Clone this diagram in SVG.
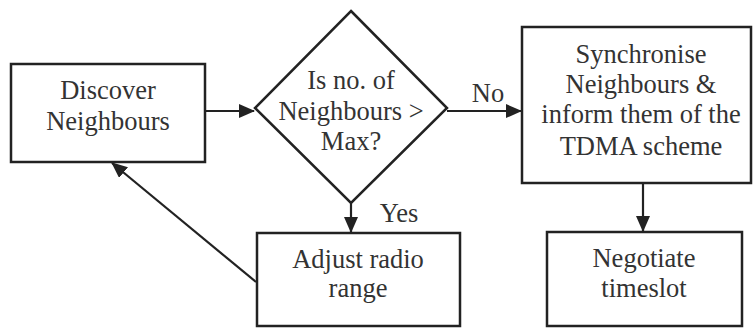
<svg xmlns="http://www.w3.org/2000/svg" width="756" height="328" viewBox="0 0 756 328">
<style>
.box{fill:#fff;stroke:#222;stroke-width:2.5}
.t{font-family:"Liberation Serif","Times New Roman",serif;font-size:26.5px;fill:#333;text-anchor:middle}
.c{fill:none;stroke:#222;stroke-width:2.2}
</style>
<defs>
<marker id="ah" markerUnits="userSpaceOnUse" markerWidth="16" markerHeight="14" refX="15" refY="7" orient="auto">
<path d="M0,0 L16,7 L0,14 Z" fill="#222"/>
</marker>
</defs>
<rect width="756" height="328" fill="#fff"/>
<g id="connectors">
<line class="c" x1="205" y1="111" x2="254" y2="111" marker-end="url(#ah)"/>
<line class="c" x1="447" y1="111" x2="521" y2="111" marker-end="url(#ah)"/>
<line class="c" x1="351" y1="203" x2="351" y2="232" marker-end="url(#ah)"/>
<line class="c" x1="643" y1="183" x2="643" y2="231" marker-end="url(#ah)"/>
<line class="c" x1="256" y1="282" x2="112" y2="163" marker-end="url(#ah)"/>
<text class="t" x="488" y="102">No</text>
<text class="t" x="399" y="222">Yes</text>
</g>
<g id="discover">
<rect class="box" x="11" y="64" width="194" height="98"/>
<text class="t" x="108" y="99">Discover</text>
<text class="t" x="108" y="130">Neighbours</text>
</g>
<g id="decision">
<path class="box" d="M351,11 L447,108 L351,203 L255,108 Z"/>
<text class="t" x="351" y="89">Is no. of</text>
<text class="t" x="351" y="120">Neighbours &gt;</text>
<text class="t" x="351" y="150">Max?</text>
</g>
<g id="synchronise">
<rect class="box" x="522" y="27" width="229" height="156"/>
<text class="t" x="641" y="63">Synchronise</text>
<text class="t" x="641" y="93">Neighbours &amp;</text>
<text class="t" x="641" y="123">inform them of the</text>
<text class="t" x="641" y="155">TDMA scheme</text>
</g>
<g id="adjust">
<rect class="box" x="257" y="233" width="203" height="93"/>
<text class="t" x="358" y="268">Adjust radio</text>
<text class="t" x="358" y="297">range</text>
</g>
<g id="negotiate">
<rect class="box" x="547" y="232" width="195" height="94"/>
<text class="t" x="644" y="267">Negotiate</text>
<text class="t" x="644" y="297">timeslot</text>
</g>
</svg>
